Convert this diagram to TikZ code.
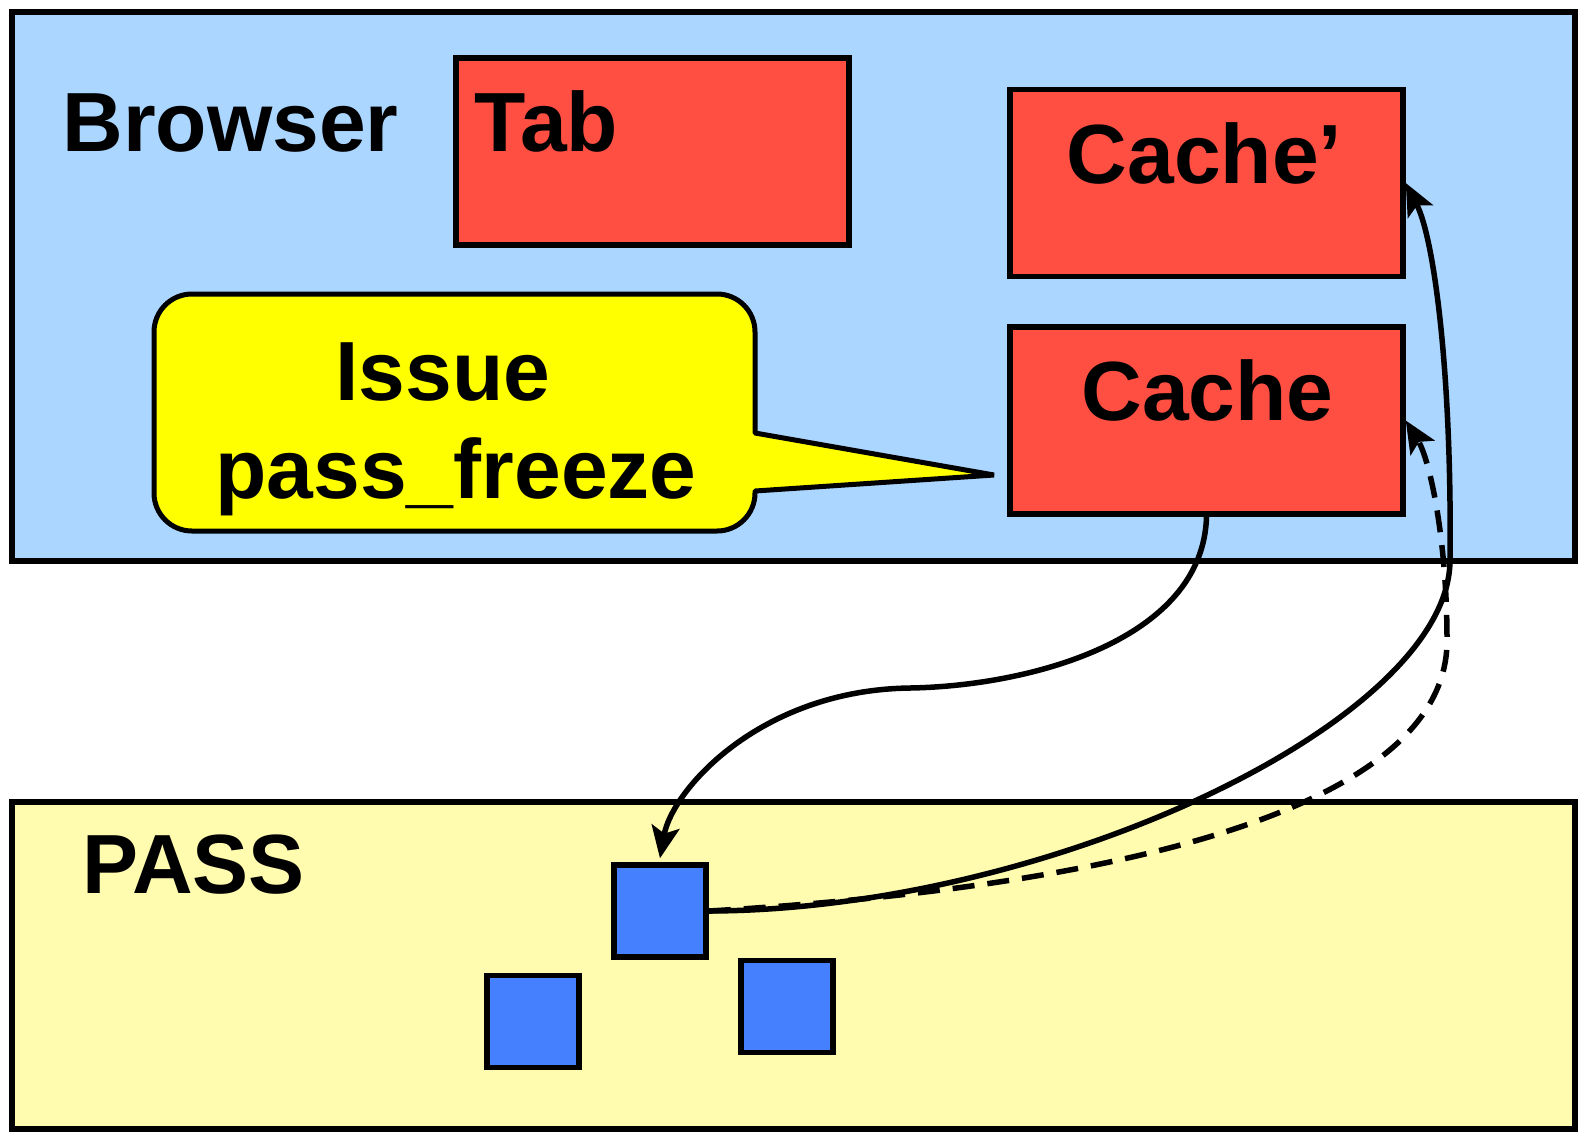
\documentclass[tikz,border=0pt]{standalone}
\usepackage{fontspec}
\setmainfont{Liberation Sans}
\usetikzlibrary{arrows.meta}
\definecolor{browserblue}{RGB}{170,214,255}
\definecolor{boxred}{RGB}{255,79,66}
\definecolor{calloutyellow}{RGB}{255,255,0}
\definecolor{passyellow}{RGB}{255,252,175}
\definecolor{squareblue}{RGB}{69,128,255}
\tikzset{
  region/.style={draw=black, line width=5.5pt, inner sep=0pt, outer sep=0pt},
  redbox/.style={region, fill=boxred, minimum width=393pt, minimum height=187pt},
  bluesq/.style={region, fill=squareblue, minimum width=92pt, minimum height=92pt, outer sep=2.75pt},
  label/.style={inner sep=0pt, anchor=base, font=\fontsize{84}{98}\selectfont\bfseries},
  flow/.style={draw=black, line width=5.5pt, -{Stealth[length=32pt, width=28pt, inset=7pt]}},
  dashflow/.style={flow, dash pattern=on 22pt off 13pt},
}
\begin{document}
\begin{tikzpicture}[x=1pt, y=1pt]
\useasboundingbox (0,0) rectangle (1579,-1133);
\fill[white] (0,0) rectangle (1579,-1133);

% the two regions
\node[region, fill=browserblue, minimum width=1563pt, minimum height=549pt] (browser) at (793.5,-286.5) {};
\node[region, fill=passyellow, minimum width=1563pt, minimum height=327pt] (pass) at (793.5,-965.5) {};

% browser contents
\node[redbox] (tab) at (652.5,-151.5) {};
\node[redbox, outer sep=2.75pt] (cachep) at (1206.5,-183) {};
\node[redbox, outer sep=2.75pt] (cache) at (1206.5,-420.5) {};

% speech bubble pointing at the cache
\draw[line width=5pt, fill=calloutyellow, line join=bevel]
  (755,-433) -- (994,-475) -- (755,-491) -- (755,-493)
  arc[start angle=0, end angle=-90, radius=38pt] -- (192,-531)
  arc[start angle=270, end angle=180, radius=38pt] -- (154,-332)
  arc[start angle=180, end angle=90, radius=38pt] -- (717,-294)
  arc[start angle=90, end angle=0, radius=38pt] -- cycle;

% PASS objects
\node[bluesq] (b1) at (660,-911) {};
\node[bluesq] (b2) at (533,-1021.5) {};
\node[bluesq] (b3) at (787,-1006.5) {};

% labels
\node[label] (browserlbl) at (230.5,-151) {Browser};
\node[label] (tablbl) at (546.5,-151) {Tab};
\node[label] (cacheplbl) at (1204.5,-183) {Cache’};
\node[label] (cachelbl) at (1207.5,-420) {Cache};
\node[label] (issuelbl) at (443,-400) {Issue};
\node[label] (freezelbl) at (456,-498) {pass\_freeze};
\node[label] (passlbl) at (193.5,-893) {PASS};

% connectors
\draw[flow] (cache.south) .. controls (1203,-640) and (1030,-686) .. (910,-688)
  .. controls (760,-690) and (672,-790) .. ([yshift=4pt]b1.north);
\draw[flow] (b1.east) .. controls (1050,-910) and (1450,-720) .. (1450,-560)
  .. controls (1452,-380) and (1435,-240) .. (cachep.east);
\draw[dashflow] (b1.east) .. controls (1150,-885) and (1448,-800) .. (1447,-640)
  .. controls (1447,-540) and (1430,-460) .. (cache.east);
\end{tikzpicture}
\end{document}
